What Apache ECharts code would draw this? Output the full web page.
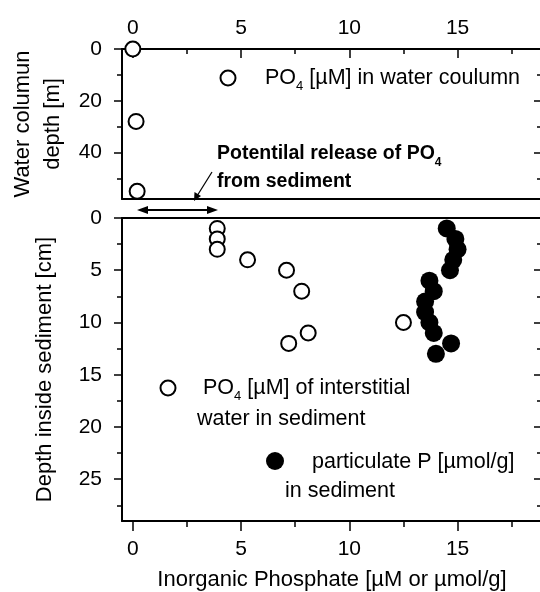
<!DOCTYPE html>
<html>
<head>
<meta charset="utf-8">
<script src="https://cdn.jsdelivr.net/npm/echarts@6/dist/echarts.min.js"></script>
<style>
html, body { margin: 0; padding: 0; background: #fff; }
#main { width: 540px; height: 592px; }
</style>
</head>
<body>
<div id="main"></div>
<script>
// water column: PO4 [µM] vs depth [m]
var waterPO4 = [0, 0.15, 0.2];
var waterDepth = [0, 28, 55];
// interstitial water PO4 [µM] vs depth in sediment [cm]
var porePO4 = [3.9, 3.9, 3.9, 5.3, 7.1, 7.8, 12.5, 8.1, 7.2];
var poreDepth = [1, 2, 3, 4, 5, 7, 10, 11, 12];
// particulate P [µmol/g] vs depth in sediment [cm]
var partP = [14.5, 14.9, 15.0, 14.8, 14.65, 13.7, 13.9, 13.5, 13.5, 13.7, 13.9, 14.7, 14.0];
var partDepth = [1, 2, 3, 4, 5, 6, 7, 8, 9, 10, 11, 12, 13];

// axis ticks
var xTicks = [0, 5, 10, 15];
var xMinor = [2.5, 7.5, 12.5, 17.5];
var waterTicks = [0, 20, 40];
var waterMinor = [10, 30, 50];
var sedTicks = [0, 5, 10, 15, 20, 25];
var sedMinor = [2.5, 7.5, 12.5, 17.5, 22.5, 27.5];

function pairs(xs, ys) {
    return xs.map(function (v, i) { return [v, ys[i]]; });
}

var FONT = 'Liberation Sans';
var black = '#000';
var lineStyle = { color: black, width: 2 };

// helper for an axis: only line, ticks or labels as asked
function ax(o) {
    var a = {
        type: 'value',
        gridIndex: o.grid,
        position: o.pos,
        min: o.min,
        max: o.max,
        inverse: !!o.inverse,
        splitLine: { show: false },
        axisLine: { show: o.line !== false, onZero: false, lineStyle: lineStyle },
        axisTick: o.ticks ? {
            show: true,
            inside: !!o.inside,
            length: o.len || 8,
            customValues: o.ticks,
            lineStyle: { color: black, width: 1.5 }
        } : { show: false },
        axisLabel: o.labels ? {
            show: true,
            customValues: o.labels,
            margin: o.margin,
            color: black,
            fontFamily: FONT,
            fontSize: 21
        } : { show: false }
    };
    if (o.name) {
        a.name = o.name;
        a.nameLocation = 'middle';
        a.nameGap = o.nameGap;
        a.nameTextStyle = { color: black, fontFamily: FONT, fontSize: 22, lineHeight: 30 };
    }
    return a;
}

var XMIN = -0.5, XMAX = 18.9;
var WMAX = 58, SMAX = 29;

let myChart = echarts.init(document.getElementById('main'));

function grid(top, height) {
    return { left: 122, right: -2, top: top, height: height, containLabel: false, outerBoundsMode: 'none' };
}

var option = {
    animation: false,
    backgroundColor: '#fff',
    grid: [grid(49, 150), grid(49, 150), grid(218, 303), grid(218, 303)],
    xAxis: [
        ax({ grid: 0, pos: 'top', min: XMIN, max: XMAX, ticks: xTicks, inside: true, len: 9, labels: xTicks, margin: 10 }),
        ax({ grid: 0, pos: 'bottom', min: XMIN, max: XMAX }),
        ax({ grid: 1, pos: 'top', min: XMIN, max: XMAX, line: false, ticks: xMinor, inside: true, len: 5 }),
        ax({ grid: 2, pos: 'bottom', min: XMIN, max: XMAX, ticks: xTicks, len: 10, labels: xTicks, margin: 18,
             name: 'Inorganic Phosphate [µM or µmol/g]', nameGap: 43 }),
        ax({ grid: 2, pos: 'top', min: XMIN, max: XMAX }),
        ax({ grid: 3, pos: 'bottom', min: XMIN, max: XMAX, line: false, ticks: xMinor, len: 6 })
    ],
    yAxis: [
        ax({ grid: 0, pos: 'left', min: 0, max: WMAX, inverse: true, ticks: waterTicks, len: 8, labels: waterTicks, margin: 20,
             name: 'Water columun\ndepth [m]', nameGap: 48 }),
        ax({ grid: 0, pos: 'right', min: 0, max: WMAX, inverse: true, ticks: [20, 40], inside: true, len: 8 }),
        ax({ grid: 1, pos: 'left', min: 0, max: WMAX, inverse: true, line: false, ticks: waterMinor, len: 5 }),
        ax({ grid: 1, pos: 'right', min: 0, max: WMAX, inverse: true, line: false, ticks: waterMinor, inside: true, len: 5 }),
        ax({ grid: 2, pos: 'left', min: 0, max: SMAX, inverse: true, ticks: sedTicks, len: 8, labels: sedTicks, margin: 20,
             name: 'Depth inside sediment [cm]', nameGap: 62 }),
        ax({ grid: 2, pos: 'right', min: 0, max: SMAX, inverse: true, ticks: sedTicks, inside: true, len: 8 }),
        ax({ grid: 3, pos: 'left', min: 0, max: SMAX, inverse: true, line: false, ticks: sedMinor, len: 5 }),
        ax({ grid: 3, pos: 'right', min: 0, max: SMAX, inverse: true, line: false, ticks: sedMinor, inside: true, len: 5 })
    ],
    series: [
        {
            name: 'PO4 water column',
            type: 'scatter',
            xAxisIndex: 0, yAxisIndex: 0,
            symbolSize: 15,
            clip: false,
            itemStyle: { color: '#fff', borderColor: black, borderWidth: 2, opacity: 1 },
            data: pairs(waterPO4, waterDepth)
        },
        {
            name: 'particulate P',
            type: 'scatter',
            xAxisIndex: 3, yAxisIndex: 4,
            symbolSize: 18,
            itemStyle: { color: black, opacity: 1 },
            data: pairs(partP, partDepth)
        },
        {
            name: 'PO4 interstitial',
            type: 'scatter',
            xAxisIndex: 3, yAxisIndex: 4,
            symbolSize: 15,
            itemStyle: { color: '#fff', borderColor: black, borderWidth: 2, opacity: 1 },
            data: pairs(porePO4, poreDepth)
        }
    ]
};

// legend keys and notes (free placed, like the original figure)
var txt = { fill: black, verticalAlign: 'middle' };
var sub = { verticalAlign: 'bottom', lineHeight: 22, padding: [0, 0, -4, 0] };
function text(x, y, s, rich) {
    var st = Object.assign({ text: s, x: x, y: y, rich: rich }, txt);
    return { type: 'text', style: st, z: 10 };
}
var richReg = { r: { fontSize: 21.5, fontFamily: FONT, lineHeight: 22 },
                s: Object.assign({ fontFamily: FONT, fontSize: 13 }, sub) };
var richBold = { r: { fontSize: 19.5, fontWeight: 'bold', fontFamily: FONT, lineHeight: 22 },
                 s: Object.assign({ fontFamily: FONT, fontWeight: 'bold', fontSize: 12 }, sub) };

option.graphic = [
    { type: 'circle', shape: { cx: 228, cy: 78, r: 7.5 }, style: { fill: '#fff', stroke: black, lineWidth: 2 }, z: 10 },
    text(265, 78, '{r|PO}{s|4}{r| [µM] in water coulumn}', richReg),

    text(217, 154, '{r|Potentilal release of PO}{s|4}', richBold),
    text(217, 182, '{r|from sediment}', richBold),
    { type: 'line', shape: { x1: 212, y1: 172, x2: 197, y2: 196 }, style: { stroke: black, lineWidth: 1.2 }, z: 10 },
    { type: 'polygon', shape: { points: [[194, 201], [194.5, 192], [201, 196]] }, style: { fill: black }, z: 10 },
    { type: 'line', shape: { x1: 142, y1: 210, x2: 214, y2: 210 }, style: { stroke: black, lineWidth: 2 }, z: 10 },
    { type: 'polygon', shape: { points: [[137, 210], [148, 206], [148, 214]] }, style: { fill: black }, z: 10 },
    { type: 'polygon', shape: { points: [[218, 210], [207, 206], [207, 214]] }, style: { fill: black }, z: 10 },

    { type: 'circle', shape: { cx: 168, cy: 388, r: 7.5 }, style: { fill: '#fff', stroke: black, lineWidth: 2 }, z: 10 },
    text(203, 388, '{r|PO}{s|4}{r| [µM] of interstitial}', richReg),
    text(197, 419, '{r|water in sediment}', richReg),

    { type: 'circle', shape: { cx: 275, cy: 461, r: 9 }, style: { fill: black }, z: 10 },
    text(312, 462, '{r|particulate P [µmol/g]}', richReg),
    text(285, 491, '{r|in sediment}', richReg)
];

myChart.setOption(option);
</script>
</body>
</html>
